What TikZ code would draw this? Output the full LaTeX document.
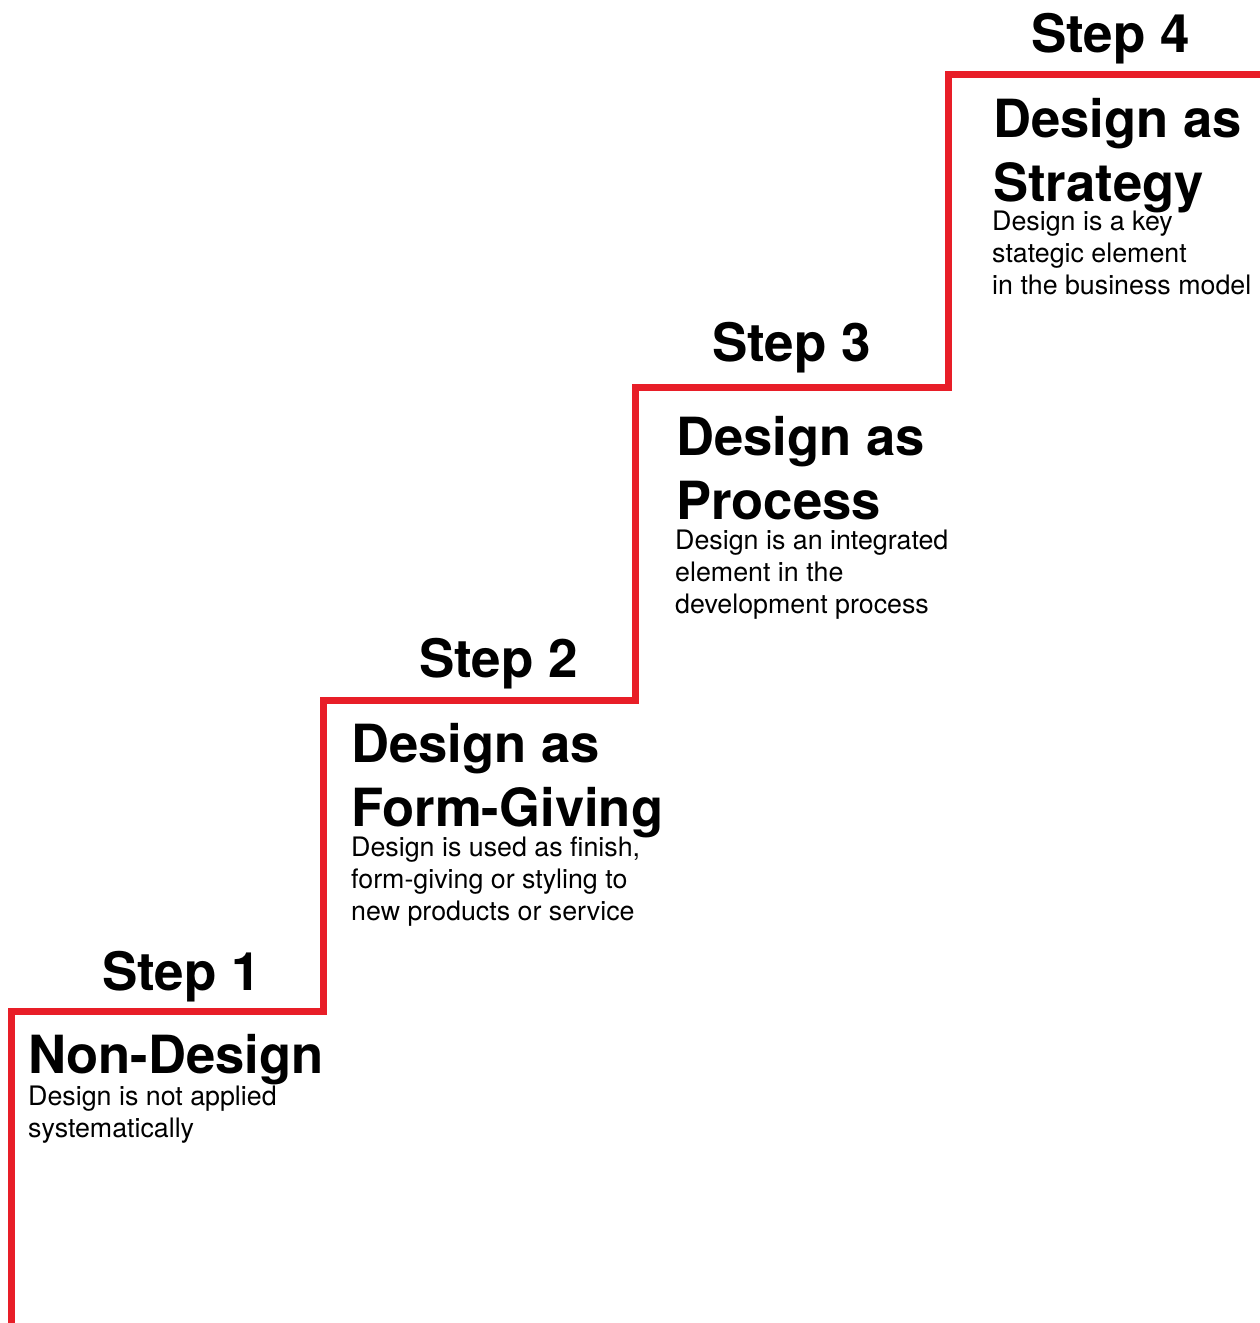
\documentclass[tikz,border=0pt]{standalone}
\usepackage{fontspec}
\setmainfont{TeX Gyre Heros}
\definecolor{stairred}{RGB}{232,30,40}
\begin{document}
\begin{tikzpicture}[x=1pt,y=-1pt,
  steplabel/.style={anchor=base west,inner sep=0pt,font=\fontsize{53}{62}\selectfont\bfseries},
  % multi-line nodes: the base anchor sits on the last line's baseline
  heading/.style={anchor=base west,inner sep=0pt,align=left,font=\fontsize{52.6}{64}\selectfont\bfseries},
  desc/.style={anchor=base west,inner sep=0pt,align=left,font=\fontsize{26.8}{31.7}\selectfont},
  stair/.style={draw=stairred,line width=7pt,line join=miter}]
\useasboundingbox[fill=white] (0,0) rectangle (1260,1323);

% the staircase
\begin{scope}
  \clip (0,0) rectangle (1260,1323);
  \draw[stair] (11,1340) -- (11,1011) -- (323,1011) -- (323,700) -- (635,700)
    -- (635,387) -- (948,387) -- (948,74) -- (1280,74);
\end{scope}

% step 1
\node[steplabel] (s1) at (102,990) {Step 1};
\node[heading] (h1) at (28,1073) {Non-Design};
\node[desc] (d1) at (28,1137) {Design is not applied\\systematically};

% step 2
\node[steplabel] (s2) at (419,677) {Step 2};
\node[heading] (h2) at (351,826) {Design as\\Form-Giving};
\node[desc] (d2) at (351,920) {Design is used as finish,\\form-giving or styling to\\new products or service};

% step 3
\node[steplabel] (s3) at (712,361) {Step 3};
\node[heading] (h3) at (676,519) {Design as\\Process};
\node[desc] (d3) at (675,613) {Design is an integrated\\element in the\\development process};

% step 4
\node[steplabel] (s4) at (1031,52) {Step 4};
\node[heading] (h4) at (993,201) {Design as\\Strategy};
\node[desc] (d4) at (992,294) {Design is a key\\stategic element\\in the business model};
\end{tikzpicture}
\end{document}
